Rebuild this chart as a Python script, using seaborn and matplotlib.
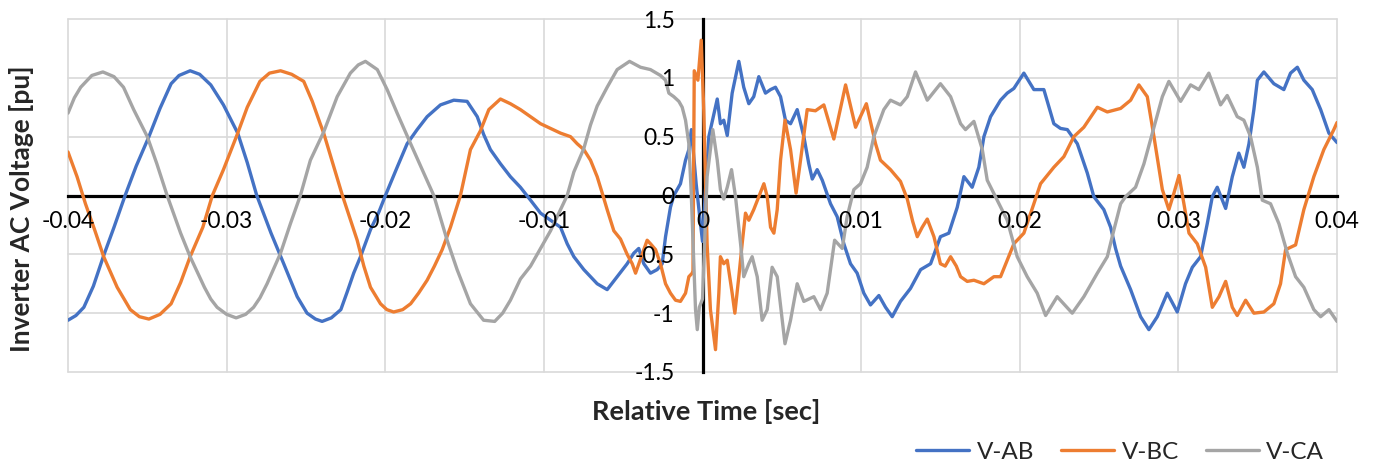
import numpy as np
import pandas as pd
import matplotlib
matplotlib.use("Agg")
import matplotlib.pyplot as plt
import seaborn as sns

# Inverter line-to-line voltages around the event, (time [ms], voltage [pu])
v_ab = [
    (-40.0, -1.06), (-39.5, -1.02), (-39.0, -0.95), (-38.4, -0.77), (-37.75, -0.51),
    (-37.1, -0.27), (-36.4, 0.0), (-35.7, 0.25), (-34.9, 0.50), (-34.2, 0.74),
    (-33.5, 0.95), (-33.0, 1.02), (-32.3, 1.06), (-31.7, 1.03), (-31.0, 0.94),
    (-30.2, 0.77), (-29.3, 0.53), (-28.7, 0.28), (-28.1, 0.0),
    (-27.2, -0.32), (-26.4, -0.58), (-25.55, -0.86), (-24.93, -1.0), (-24.4, -1.05),
    (-23.98, -1.07), (-23.4, -1.04), (-22.8, -0.97), (-22.4, -0.82),
    (-21.99, -0.66), (-21.56, -0.52), (-20.93, -0.29), (-20.4, -0.14), (-19.99, 0.0),
    (-19.25, 0.24), (-18.62, 0.44), (-17.99, 0.56), (-17.36, 0.67), (-16.52, 0.77),
    (-15.68, 0.81), (-14.84, 0.80), (-14.2, 0.67), (-13.8, 0.52), (-13.37, 0.39),
    (-12.74, 0.27), (-12.11, 0.16), (-11.48, 0.07), (-10.84, -0.04), (-10.21, -0.15),
    (-9.58, -0.21), (-8.95, -0.27), (-8.53, -0.41), (-8.11, -0.52), (-7.48, -0.63),
    (-6.64, -0.75), (-6.01, -0.80), (-5.38, -0.69), (-4.75, -0.58), (-4.33, -0.49),
    (-4.02, -0.45), (-3.7, -0.58), (-3.28, -0.66), (-2.86, -0.63), (-2.54, -0.58),
    (-2.33, -0.35), (-2.02, -0.10), (-1.81, 0.0), (-1.39, 0.10), (-1.07, 0.30),
    (-0.86, 0.39), (-0.7, 0.56), (-0.4, 0.10), (-0.2, -0.15), (0.0, -0.39),
    (0.19, 0.05), (0.4, 0.50), (0.93, 0.82), (1.13, 0.61), (1.34, 0.64),
    (1.56, 0.51), (1.87, 0.87), (2.29, 1.14), (2.6, 0.92), (2.92, 0.78),
    (3.23, 0.84), (3.55, 1.01), (3.97, 0.87), (4.29, 0.90), (4.6, 0.92),
    (4.92, 0.84), (5.23, 0.64), (5.55, 0.61), (5.97, 0.73), (6.39, 0.50),
    (6.7, 0.27), (6.92, 0.14), (7.23, 0.22), (7.55, 0.13), (8.07, -0.07),
    (8.49, -0.18), (8.91, -0.41), (9.33, -0.58), (9.75, -0.66), (10.17, -0.83),
    (10.59, -0.93), (11.12, -0.85), (11.54, -0.95), (11.96, -1.03), (12.48, -0.90),
    (13.11, -0.79), (13.75, -0.63), (14.38, -0.58), (15.0, -0.35), (15.53, -0.32),
    (16.06, -0.10), (16.48, 0.16), (17.0, 0.07), (17.42, 0.24), (17.74, 0.50),
    (18.16, 0.67), (18.79, 0.81), (19.21, 0.87), (19.63, 0.91), (20.26, 1.04),
    (20.89, 0.90), (21.52, 0.90), (22.15, 0.61), (22.57, 0.57), (23.0, 0.56),
    (23.63, 0.44), (24.26, 0.19), (24.67, -0.01), (25.3, -0.12), (25.73, -0.27),
    (26.04, -0.45), (26.36, -0.60), (26.99, -0.80), (27.62, -1.03), (28.14, -1.14),
    (28.67, -1.03), (29.3, -0.83), (29.93, -0.99), (30.45, -0.75), (30.88, -0.61),
    (31.4, -0.52), (31.82, -0.24), (32.14, -0.01), (32.45, 0.07), (32.98, -0.11),
    (33.4, 0.16), (33.81, 0.36), (34.13, 0.24), (34.45, 0.44), (34.76, 0.73),
    (34.98, 0.98), (35.39, 1.05), (36.02, 0.95), (36.65, 0.90), (37.07, 1.04),
    (37.5, 1.09), (37.91, 0.98), (38.44, 0.90), (38.97, 0.73), (39.49, 0.53),
    (40.0, 0.45),
]

v_bc = [
    (-40.0, 0.37), (-39.43, 0.16), (-38.9, -0.07), (-38.3, -0.30), (-37.75, -0.52),
    (-36.9, -0.78), (-36.07, -0.97), (-35.5, -1.03), (-34.9, -1.05), (-34.2, -1.01),
    (-33.5, -0.92), (-32.9, -0.74), (-32.3, -0.52), (-31.5, -0.27),
    (-30.9, 0.0), (-30.2, 0.22), (-29.3, 0.53), (-28.7, 0.75), (-27.9, 0.97),
    (-27.3, 1.04), (-26.6, 1.06), (-25.9, 1.03), (-25.14, 0.97), (-24.6, 0.80),
    (-24.1, 0.61), (-23.88, 0.53), (-23.3, 0.27), (-22.7, 0.0),
    (-21.77, -0.38), (-21.35, -0.60), (-20.93, -0.78), (-20.3, -0.92), (-19.9, -0.97),
    (-19.47, -0.99), (-18.9, -0.97), (-18.4, -0.92), (-17.9, -0.83), (-17.36, -0.72),
    (-16.9, -0.60), (-16.41, -0.46), (-15.89, -0.27), (-15.26, 0.0),
    (-14.63, 0.39), (-14.0, 0.55), (-13.47, 0.73), (-12.74, 0.82), (-12.11, 0.78),
    (-11.48, 0.73), (-10.84, 0.67), (-10.21, 0.61), (-9.58, 0.57), (-8.95, 0.53),
    (-8.32, 0.50), (-7.9, 0.44), (-7.48, 0.39), (-7.06, 0.30), (-6.64, 0.16),
    (-6.32, 0.02), (-6.01, -0.12), (-5.59, -0.30), (-5.17, -0.37), (-4.75, -0.50),
    (-4.43, -0.58), (-4.22, -0.66), (-4.01, -0.58), (-3.7, -0.46), (-3.49, -0.38),
    (-3.28, -0.41), (-2.96, -0.46), (-2.65, -0.58), (-2.33, -0.75), (-2.02, -0.83),
    (-1.7, -0.89), (-1.39, -0.90), (-1.07, -0.83), (-0.86, -0.69), (-0.65, -0.66),
    (-0.6, -0.64), (-0.52, 1.06), (-0.29, 0.98), (-0.08, 1.32), (0.08, 0.72),
    (0.29, -0.41), (0.5, -0.97), (0.82, -1.31), (1.03, -0.83), (1.13, -0.52),
    (1.34, -0.58), (1.56, -0.55), (1.87, -0.83), (2.04, -1.00), (2.29, -0.69),
    (2.5, -0.41), (2.71, -0.15), (2.92, -0.21), (3.23, -0.12), (3.55, -0.01),
    (3.87, 0.10), (4.08, -0.01), (4.29, -0.27), (4.5, -0.32), (4.71, -0.12),
    (4.92, 0.30), (5.2, 0.64), (5.55, 0.39), (5.9, 0.02), (6.18, 0.30),
    (6.6, 0.73), (7.12, 0.72), (7.65, 0.77), (8.28, 0.48), (9.02, 0.94),
    (9.65, 0.58), (10.33, 0.78), (10.91, 0.44), (11.22, 0.30), (11.85, 0.22),
    (12.48, 0.12), (12.91, -0.03), (13.25, -0.22), (13.54, -0.35), (13.85, -0.27),
    (14.17, -0.20), (14.59, -0.35), (15.0, -0.58), (15.3, -0.60), (15.64, -0.52),
    (16.0, -0.60), (16.27, -0.69), (16.69, -0.73), (17.11, -0.72), (17.74, -0.75),
    (18.37, -0.69), (18.79, -0.69), (19.21, -0.55), (19.63, -0.41), (20.26, -0.32),
    (20.89, -0.07), (21.31, 0.10), (22.15, 0.24), (22.78, 0.33), (23.41, 0.50),
    (24.04, 0.58), (24.89, 0.75), (25.52, 0.71), (26.36, 0.74), (26.99, 0.81),
    (27.51, 0.94), (28.04, 0.84), (28.46, 0.50), (28.99, 0.05), (29.4, -0.12),
    (29.72, 0.02), (30.04, 0.17), (30.35, -0.07), (30.67, -0.32), (31.19, -0.41),
    (31.72, -0.61), (32.14, -0.95), (32.56, -0.86), (32.98, -0.73), (33.4, -0.95),
    (33.71, -1.02), (34.24, -0.89), (34.76, -1.00), (35.39, -0.99), (36.02, -0.92),
    (36.44, -0.75), (36.76, -0.46), (37.07, -0.44), (37.39, -0.42), (37.91, -0.12),
    (38.54, 0.16), (39.17, 0.39), (39.8, 0.56), (40.0, 0.62),
]

v_ca = [
    (-40.0, 0.70), (-39.6, 0.83), (-39.2, 0.92), (-38.5, 1.02), (-37.8, 1.05),
    (-37.1, 1.01), (-36.5, 0.92), (-35.86, 0.73),
    (-35.0, 0.50), (-34.4, 0.27), (-33.75, 0.0), (-32.9, -0.32), (-32.3, -0.52),
    (-31.4, -0.78), (-31.0, -0.88), (-30.6, -0.95), (-30.0, -1.01), (-29.4, -1.04),
    (-28.8, -1.01), (-28.3, -0.95), (-27.9, -0.87), (-27.45, -0.75),
    (-26.6, -0.49), (-25.98, -0.24), (-25.35, 0.0), (-24.72, 0.30), (-23.88, 0.54),
    (-23.03, 0.84), (-22.2, 1.04), (-21.7, 1.11), (-21.25, 1.14), (-20.5, 1.07),
    (-19.88, 0.90), (-19.25, 0.70), (-18.4, 0.44), (-17.57, 0.19), (-16.94, 0.0),
    (-16.1, -0.38), (-15.47, -0.63), (-14.63, -0.92), (-13.8, -1.06), (-13.1, -1.07),
    (-12.6, -1.00), (-12.11, -0.89),
    (-11.48, -0.71), (-10.84, -0.60), (-10.21, -0.45), (-9.58, -0.30), (-8.95, -0.12),
    (-8.53, 0.0), (-8.11, 0.20), (-7.48, 0.40), (-7.06, 0.60), (-6.64, 0.76),
    (-6.01, 0.92), (-5.38, 1.07), (-4.6, 1.14), (-3.91, 1.09), (-3.28, 1.07),
    (-2.65, 1.02), (-2.33, 0.98), (-2.12, 0.87), (-1.81, 0.84), (-1.49, 0.80),
    (-1.28, 0.75), (-1.07, 0.64), (-0.86, 0.44), (-0.71, 0.02), (-0.59, -0.41),
    (-0.44, -0.97), (-0.33, -1.14), (-0.2, -0.95), (0.0, -0.88), (0.29, 0.16),
    (0.65, 0.56), (0.93, 0.30), (1.13, 0.05), (1.34, -0.03), (1.56, 0.07),
    (1.83, 0.22), (2.08, -0.01), (2.4, -0.41), (2.6, -0.69), (2.92, -0.58),
    (3.13, -0.52), (3.45, -0.69), (3.76, -1.06), (4.08, -0.97), (4.39, -0.61),
    (4.71, -0.69), (5.2, -1.26), (5.55, -1.06), (5.97, -0.75), (6.39, -0.90),
    (7.02, -0.86), (7.44, -0.97), (7.86, -0.83), (8.33, -0.38), (8.81, -0.45),
    (9.12, -0.18), (9.54, 0.05), (9.96, 0.10), (10.38, 0.24), (10.8, 0.50),
    (11.43, 0.73), (11.85, 0.81), (12.48, 0.77), (12.91, 0.84), (13.43, 1.05),
    (14.17, 0.81), (15.0, 0.95), (15.64, 0.84), (16.27, 0.61), (16.58, 0.56),
    (17.11, 0.63), (17.64, 0.39), (17.95, 0.13), (18.58, -0.04), (19.21, -0.21),
    (19.84, -0.52), (20.47, -0.69), (21.1, -0.83), (21.63, -1.02), (22.36, -0.86),
    (23.31, -1.00), (24.04, -0.86), (24.89, -0.66), (25.52, -0.52), (25.94, -0.29),
    (26.36, -0.07), (26.67, -0.01), (27.3, 0.07), (27.83, 0.27), (28.46, 0.58),
    (28.99, 0.84), (29.4, 0.97), (30.14, 0.80), (30.77, 0.94), (31.29, 0.90),
    (31.92, 1.04), (32.66, 0.77), (33.08, 0.85), (33.71, 0.67), (34.13, 0.64),
    (34.55, 0.50), (34.98, 0.24), (35.29, -0.04), (35.81, -0.07), (36.34, -0.24),
    (36.87, -0.49), (37.39, -0.69), (37.91, -0.78), (38.54, -0.97), (38.97, -1.03),
    (39.49, -0.97), (40.0, -1.07),
]

phases = ["V-AB", "V-BC", "V-CA"]
colors = ["#4472C4", "#ED7D31", "#A5A5A5"]
x_ticks = [-0.04, -0.03, -0.02, -0.01, 0.0, 0.01, 0.02, 0.03, 0.04]
x_tick_labels = ["-0.04", "-0.03", "-0.02", "-0.01", "0", "0.01", "0.02", "0.03", "0.04"]
y_ticks = [-1.5, -1.0, -0.5, 0.0, 0.5, 1.0, 1.5]
y_tick_labels = ["-1.5", "-1", "-0.5", "0", "0.5", "1", "1.5"]

sns.set_style("white")
plt.rcParams["font.family"] = ["Lato", "DejaVu Sans"]
plt.rcParams["axes.unicode_minus"] = False

frames = []
for name, series in zip(phases, [v_ab, v_bc, v_ca]):
    arr = np.array(series)
    frames.append(pd.DataFrame({"time": arr[:, 0] / 1000.0,
                                "voltage": arr[:, 1],
                                "phase": name}))
df = pd.concat(frames, ignore_index=True)

W, H = 1378, 466
fig = plt.figure(figsize=(W / 100, H / 100), dpi=100)
ax = fig.add_axes([68 / W, 1 - 372 / H, (1337 - 68) / W, (372 - 19) / H])

# light grid behind everything
for xt in x_ticks:
    ax.axvline(xt, color="#d9d9d9", lw=1.2, zorder=0.5, clip_on=False)
for yt in y_ticks:
    ax.axhline(yt, color="#d9d9d9", lw=1.2, zorder=0.5, clip_on=False)

sns.lineplot(data=df, x="time", y="voltage", hue="phase",
             palette=dict(zip(phases, colors)), hue_order=phases,
             estimator=None, linewidth=2.4, ax=ax, zorder=3,
             solid_joinstyle="round", solid_capstyle="round")

ax.set_xlim(-0.04, 0.04)
ax.set_ylim(-1.5, 1.5)
ax.set_xticks(x_ticks)
ax.set_xticklabels(x_tick_labels)
ax.set_yticks(y_ticks)
ax.set_yticklabels(y_tick_labels)
ax.set_xlabel("")
ax.set_ylabel("")

for side in ("top", "right"):
    ax.spines[side].set_visible(False)
ax.spines["left"].set_position(("data", 0))
ax.spines["bottom"].set_position(("data", 0))
for side in ("left", "bottom"):
    ax.spines[side].set_color("black")
    ax.spines[side].set_linewidth(2.3)
    ax.spines[side].set_zorder(2.5)

ax.tick_params(axis="x", length=0, pad=11, labelsize=16.5, colors="black")
ax.tick_params(axis="y", length=0, pad=20, labelsize=16.5, colors="black")
ax.xaxis.set_zorder(4)
ax.yaxis.set_zorder(4)

handles, labels = ax.get_legend_handles_labels()
ax.get_legend().remove()
fig.legend(handles, labels, loc="center", bbox_to_anchor=(1120 / W, 1 - 452 / H),
           ncol=3, frameon=False, fontsize=17.5, handlelength=2.2,
           handletextpad=0.3, columnspacing=1.1)

fig.text(706 / W, 1 - 412 / H, "Relative Time [sec]", ha="center", va="center",
         fontsize=19.5, fontweight="bold")
fig.text(22 / W, 1 - 209 / H, "Inverter AC Voltage [pu]", ha="center", va="center",
         rotation=90, fontsize=19, fontweight="bold")

fig.savefig("out.png", dpi=100)
